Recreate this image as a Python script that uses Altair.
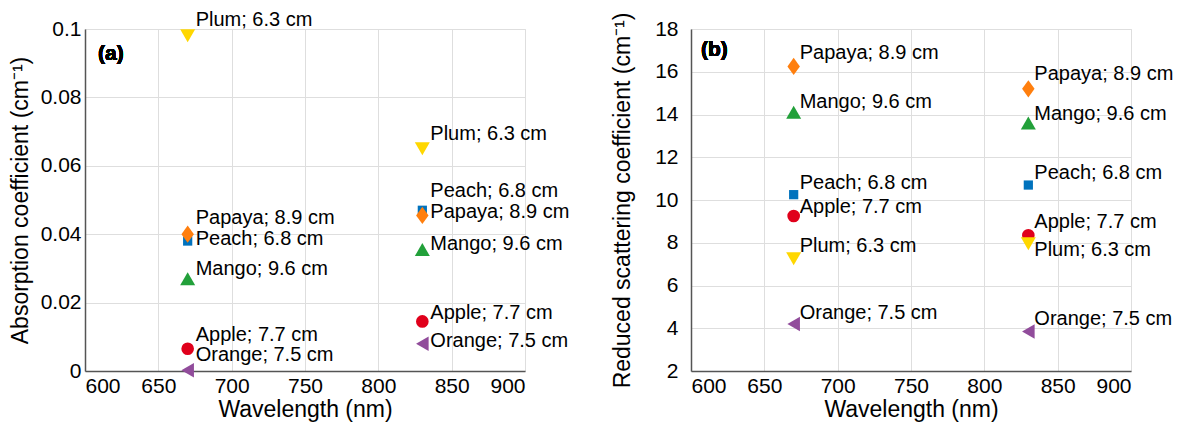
import altair as alt
import pandas as pd

# ---------------- data ----------------
fruits = ["Peach", "Papaya", "Mango", "Apple", "Plum", "Orange"]
diameters = ["6.8 cm", "8.9 cm", "9.6 cm", "7.7 cm", "6.3 cm", "7.5 cm"]
wavelengths = [670, 830]
absorption_670 = [0.038, 0.040, 0.027, 0.0065, 0.098, 0.0002]
absorption_830 = [0.047, 0.0455, 0.0355, 0.0145, 0.065, 0.008]
scattering_670 = [10.25, 16.25, 14.1, 9.25, 7.25, 4.2]
scattering_830 = [10.7, 15.2, 13.6, 8.35, 7.95, 3.85]

# ---------------- styles ----------------
colors = ["#0072BD", "#FF7F0E", "#22A03A", "#E0001B", "#FFD700", "#914C9B"]
shapes = ["square", "M0,-1L0.72,0L0,1L-0.72,0Z", "triangle-up", "circle",
          "triangle-down", "triangle-left"]
sizes = [85, 300, 225, 160, 225, 210]

# label vertical offsets (pixels) per panel / wavelength / fruit order
label_dy_a = {670: [-2, -16, -10, -14, -16, -15], 830: [-19, -3, -6, -8, -15, -3]}
label_dy_b = {670: [-12, -13, -10, -9, -13, -11], 830: [-12, -15, -9, -13, 6, -12]}

FONT = "Liberation Sans"


def make_df(v670, v830):
    rows = []
    for wl, vals in zip(wavelengths, [v670, v830]):
        for f, d, v in zip(fruits, diameters, vals):
            rows.append({"fruit": f, "wl": wl, "value": v, "label": f"{f}; {d}"})
    return pd.DataFrame(rows)


def panel(df, ydomain, yvalues, ytitle, yformat, letter, letter_xy, dys, dx,
          label_pad, title_pad):
    x = alt.X("wl:Q", scale=alt.Scale(domain=[600, 900], nice=False),
              axis=alt.Axis(title="Wavelength (nm)", values=list(range(600, 901, 50)),
                            format="d", labelPadding=4, titlePadding=2))
    y = alt.Y("value:Q", scale=alt.Scale(domain=ydomain, nice=False, zero=False),
              axis=alt.Axis(title=ytitle, values=yvalues, format=yformat,
                            labelPadding=label_pad, titlePadding=title_pad))
    layers = []
    for i, f in enumerate(fruits):
        layers.append(
            alt.Chart(df).transform_filter(alt.datum.fruit == f)
            .mark_point(shape=shapes[i], size=sizes[i], filled=True, opacity=1,
                        color=colors[i], strokeWidth=0)
            .encode(x=x, y=y)
        )
    for wl in wavelengths:
        for i, f in enumerate(fruits):
            layers.append(
                alt.Chart(df)
                .transform_filter((alt.datum.fruit == f) & (alt.datum.wl == wl))
                .mark_text(align="left", baseline="middle", dx=dx, dy=dys[wl][i],
                           fontSize=20, font=FONT, color="black")
                .encode(x=x, y=y, text="label:N")
            )
    layers.append(
        alt.Chart(df).mark_text(align="left", baseline="middle", fontSize=21,
                                fontWeight="bold", font=FONT, color="black")
        .encode(x=alt.value(letter_xy[0]), y=alt.value(letter_xy[1]),
                text=alt.value(letter))
    )
    return alt.layer(*layers).properties(width=440, height=342)


df_a = make_df(absorption_670, absorption_830)
df_b = make_df(scattering_670, scattering_830)

pa = panel(df_a, [0, 0.1], [0, 0.02, 0.04, 0.06, 0.08, 0.1],
           "Absorption coefficient (cm\u207b\u00b9)", "~g", "(a)", (13, 25),
           label_dy_a, 8, 4, 8)
pb = panel(df_b, [2, 18], [2, 4, 6, 8, 10, 12, 14, 16, 18],
           "Reduced scattering coefficient (cm\u207b\u00b9)", "d", "(b)", (10, 21),
           label_dy_b, 6, 13, 20)

chart = (
    alt.hconcat(pa, pb, spacing=166, bounds="flush")
    .properties(padding={"left": 0, "top": 1, "right": 0, "bottom": 0})
    .configure(font=FONT)
    .configure_view(stroke="#dcdcdc", strokeWidth=1)
    .configure_axis(
        grid=True, gridColor="#dedede", gridWidth=1,
        domainColor="#555555", domainWidth=1.5, ticks=False,
        labelFont=FONT, titleFont=FONT, labelFontSize=21, titleFontSize=23,
        labelColor="black", titleColor="black", titleFontWeight="normal",
    )
)

chart.save("out.html", embed_options={"renderer": "svg", "actions": False})
